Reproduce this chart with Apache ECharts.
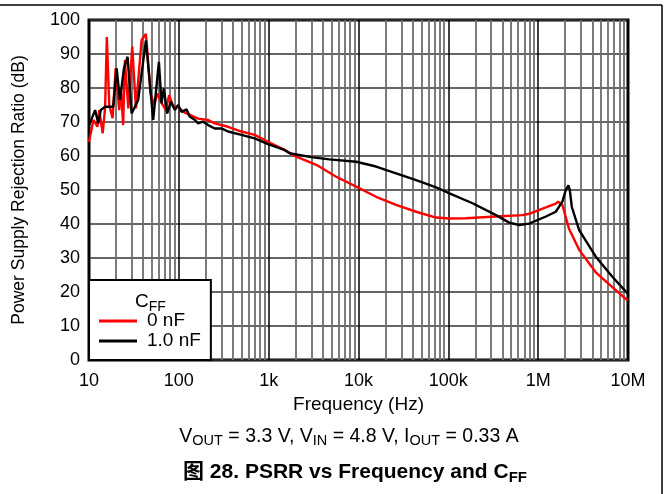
<!DOCTYPE html>
<html>
<head>
<meta charset="utf-8">
<style>
html, body { margin: 0; padding: 0; background: #fff; }
#chart { width: 665px; height: 494px; }
</style>
<script src="https://cdn.jsdelivr.net/npm/echarts@6/dist/echarts.min.js"></script>
</head>
<body>
<div id="chart"></div>
<script>
// x axis decade labels, 10 Hz .. 10 MHz
const xTickLabels = ['10', '100', '1k', '10k', '100k', '1M', '10M'];
const seriesNames = ['0 nF', '1.0 nF'];

// CFF = 0 nF (red)
const freq0 = [10, 11.2, 12.4, 13.0, 14.2, 15.1, 15.8, 16.8, 18.3, 19.8, 21.7, 22.7, 24.0, 25.1, 27.4, 30.3, 33.3, 38.5, 43, 44.5,
    48.5, 53.2, 57.5, 63.1, 71.7, 78, 86.5, 98, 112, 164, 212, 251, 353, 498, 699, 982, 1500, 2030, 3390, 5650,
    9420, 15700, 26200, 43800, 73000, 103000, 157000, 339000, 670000, 794000, 1.12e6, 1.57e6, 1.67e6, 1.86e6, 2.21e6, 2.86e6, 4.38e6, 6.6e6, 9.42e6, 1e7];
const psrr0 = [64.2, 70.6, 68.6, 73.5, 66.7, 74, 95, 75, 71.1, 85.8, 73.5, 80, 69.1, 88.2, 74, 92.2, 74, 94.1, 95.9, 95.9,
    78.4, 75, 78.4, 76, 73.5, 77.9, 74.5, 74.5, 73, 71, 70.6, 69.6, 68.6, 67.2, 66.2, 64.2, 61.8, 59.8, 57.4, 53.9,
    51, 48, 45.6, 43.6, 41.9, 41.6, 41.7, 42.2, 42.6, 43, 44.5, 46, 46.6, 45.6, 38.5, 32.4, 25.8, 21.6, 18, 17.5];

// CFF = 1.0 nF (black)
const freq1 = [10, 11.7, 12.7, 13.5, 15.1, 15.7, 18.6, 20.3, 22.1, 24.5, 26.9, 29.8, 35.3, 43, 51.8, 60, 64.2, 68.1, 74.2, 81.5,
    90.3, 98.3, 107, 122, 132, 151, 164, 186, 212, 251, 298, 353, 498, 699, 982, 1500, 1710, 3100, 4760, 9420,
    15700, 26200, 43800, 73000, 103000, 186000, 339000, 476000, 615000, 794000, 1.22e6, 1.57e6, 1.86e6, 2.03e6, 2.17e6, 2.25e6, 2.37e6, 2.86e6, 4.38e6, 6.7e6,
    9.42e6, 1e7];
const psrr1 = [69, 73.5, 69.6, 73.5, 74.5, 75, 74.5, 85.8, 76.5, 85.8, 89.2, 72.5, 76.5, 94, 70.6, 87.7, 75.5, 79.9, 72.5, 76,
    73.5, 75, 73, 73.7, 71.6, 70.6, 69.6, 70.1, 69.1, 68.1, 68.1, 67.2, 66.2, 65.2, 63.5, 61.8, 60.8, 59.6, 59, 58.3,
    56.9, 54.9, 52.9, 50.8, 49, 46.1, 42.6, 40.4, 39.7, 40.1, 42.2, 43.6, 46.6, 50, 51.4, 50, 45, 38.2, 30.4, 24.5,
    20.2, 19.5];

// 2..9 x decade grid lines
const minorLines = [];
for (let d = 10; d < 1e7; d *= 10) {
    for (let k = 2; k <= 9; k++) {
        minorLines.push({ xAxis: k * d });
    }
}

const font = "'Liberation Sans', Arial, 'Noto Sans CJK SC', sans-serif";

const chart = echarts.init(document.getElementById('chart'), null, { renderer: 'canvas' });

chart.setOption({
    animation: false,
    backgroundColor: '#fff',
    textStyle: { fontFamily: font, color: '#000' },
    title: [
        {
            text: '{m|C}{s|FF}',
            left: 135,
            top: 290,
            padding: 0,
            z: 20,
            textStyle: {
                fontWeight: 'normal',
                rich: {
                    m: { fontSize: 19, fontWeight: 'normal', fontFamily: font, color: '#000' },
                    s: { fontSize: 14, fontWeight: 'normal', fontFamily: font, color: '#000', padding: [10, 0, 0, 0] }
                }
            }
        },
        {
            text: '{m|V}{s|OUT}{m| = 3.3 V, V}{s|IN}{m| = 4.8 V, I}{s|OUT}{m| = 0.33 A}',
            left: 349,
            textAlign: 'center',
            top: 424,
            padding: 0,
            textStyle: {
                fontWeight: 'normal',
                rich: {
                    m: { fontSize: 19.5, fontWeight: 'normal', fontFamily: font, color: '#000' },
                    s: { fontSize: 14.5, fontWeight: 'normal', fontFamily: font, color: '#000', padding: [10, 0, 0, 0] }
                }
            }
        },
        {
            text: '{m|图 28. PSRR vs Frequency and C}{s|FF}',
            left: 355,
            textAlign: 'center',
            top: 460,
            padding: 0,
            textStyle: {
                rich: {
                    m: { fontSize: 21, fontWeight: 'bold', fontFamily: font, color: '#000' },
                    s: { fontSize: 15, fontWeight: 'bold', fontFamily: font, color: '#000', padding: [10, 0, 0, 0] }
                }
            }
        }
    ],
    legend: {
        orient: 'vertical',
        left: 89,
        top: 280,
        z: 10,
        padding: [31, 10, 9, 10],
        itemWidth: 38,
        itemHeight: 3,
        itemGap: 0,
        backgroundColor: '#fff',
        borderColor: '#000',
        borderWidth: 2,
        textStyle: { fontSize: 19, lineHeight: 20, color: '#000', fontFamily: font, padding: [0, 0, 0, 5] },
        data: [
            { name: seriesNames[0], icon: 'rect' },
            { name: seriesNames[1], icon: 'rect' }
        ]
    },
    grid: {
        left: 89,
        top: 20,
        width: 539,
        height: 340,
        show: true,
        borderColor: '#000',
        borderWidth: 3,
        backgroundColor: 'transparent'
    },
    xAxis: {
        type: 'log',
        logBase: 10,
        min: 10,
        max: 1e7,
        name: 'Frequency (Hz)',
        nameLocation: 'middle',
        nameGap: 32,
        nameTextStyle: { fontSize: 19, color: '#000', fontFamily: font },
        axisLine: { show: false },
        axisTick: { show: false },
        axisLabel: {
            fontSize: 18,
            color: '#000',
            margin: 12,
            formatter(value) {
                return xTickLabels[Math.round(Math.log10(value)) - 1];
            }
        },
        splitLine: { show: true, lineStyle: { color: '#000', width: 1.5 } }
    },
    yAxis: {
        type: 'value',
        min: 0,
        max: 100,
        interval: 10,
        name: 'Power Supply Rejection Ratio (dB)',
        nameLocation: 'middle',
        nameGap: 61,
        nameTextStyle: { fontSize: 17.5, color: '#000', fontFamily: font },
        axisLine: { show: false },
        axisTick: { show: false },
        axisLabel: { fontSize: 18, color: '#000', margin: 9 },
        splitLine: { show: true, lineStyle: { color: '#333', width: 1.5 } }
    },
    graphic: [
        { type: 'line', shape: { x1: 0, y1: 5, x2: 662, y2: 5 }, style: { stroke: '#000', lineWidth: 1.5 } },
        { type: 'line', shape: { x1: 662, y1: 5, x2: 662, y2: 494 }, style: { stroke: '#000', lineWidth: 1.5 } }
    ],
    series: [
        {
            name: 'grid',
            type: 'line',
            data: [],
            z: 1,
            silent: true,
            markLine: {
                z: 1,
                silent: true,
                symbol: ['none', 'none'],
                label: { show: false },
                lineStyle: { color: '#6e6e6e', width: 1.8, type: 'solid' },
                emphasis: { disabled: true },
                data: minorLines
            }
        },
        {
            name: seriesNames[0],
            type: 'line',
            showSymbol: false,
            color: '#ff0000',
            lineStyle: { width: 2.4, color: '#ff0000' },
            data: freq0.map((f, i) => [f, psrr0[i]])
        },
        {
            name: seriesNames[1],
            type: 'line',
            showSymbol: false,
            color: '#000',
            lineStyle: { width: 2.4, color: '#000' },
            data: freq1.map((f, i) => [f, psrr1[i]])
        }
    ]
});
</script>
</body>
</html>
